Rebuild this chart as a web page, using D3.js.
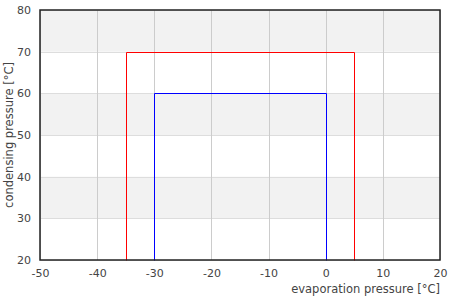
<!DOCTYPE html>
<html>
<head>
<meta charset="utf-8">
<script src="https://cdn.jsdelivr.net/npm/d3@7"></script>
<style>
  body { margin: 0; background: #fff; }
  text { font-family: "DejaVu Sans", sans-serif; }
</style>
</head>
<body>
<div id="chart"></div>
<script>
// envelope corners: evaporation temp, condensing temp
const redEvap = [-35, -35, 5, 5];
const redCond = [20, 70, 70, 20];
const blueEvap = [-30, -30, 0, 0];
const blueCond = [20, 60, 60, 20];
const xTicks = [-50, -40, -30, -20, -10, 0, 10, 20];
const yTicks = [20, 30, 40, 50, 60, 70, 80];
const bandStarts = [30, 50, 70];

const width = 450, height = 300;
const margin = { top: 10, right: 10, bottom: 40, left: 40 };

const svg = d3.select('#chart').append('svg')
    .attr('width', width)
    .attr('height', height);

const x = d3.scaleLinear().domain([-50, 20]).range([margin.left, width - margin.right]);
const y = d3.scaleLinear().domain([20, 80]).range([height - margin.bottom, margin.top]);

// alternating background bands
svg.append('g').selectAll('rect')
    .data(bandStarts)
    .enter().append('rect')
    .attr('x', x(-50))
    .attr('width', x(20) - x(-50))
    .attr('y', d => y(d + 10))
    .attr('height', d => y(d) - y(d + 10))
    .attr('fill', '#f2f2f2');

// grid
svg.append('g').selectAll('line')
    .data(yTicks)
    .enter().append('line')
    .attr('x1', x(-50)).attr('x2', x(20))
    .attr('y1', d => Math.round(y(d)) + 0.5).attr('y2', d => Math.round(y(d)) + 0.5)
    .attr('stroke', '#dddddd');

svg.append('g').selectAll('line')
    .data(xTicks)
    .enter().append('line')
    .attr('y1', y(20)).attr('y2', y(80))
    .attr('x1', d => Math.round(x(d)) + 0.5).attr('x2', d => Math.round(x(d)) + 0.5)
    .attr('stroke', '#cccccc');

// envelopes
const snap = v => Math.round(v) + 0.5;
const line = d3.line().x(d => snap(x(d[0]))).y(d => snap(y(d[1])));
const series = [
    { evap: redEvap, cond: redCond, color: '#ff0000' },
    { evap: blueEvap, cond: blueCond, color: '#0000ff' }
];
svg.append('g').selectAll('path')
    .data(series)
    .enter().append('path')
    .attr('d', s => line(s.evap.map((e, i) => [e, s.cond[i]])))
    .attr('fill', 'none')
    .attr('stroke', s => s.color)
    .attr('stroke-width', 1);

// frame
svg.append('rect')
    .attr('x', x(-50)).attr('y', y(80))
    .attr('width', x(20) - x(-50)).attr('height', y(20) - y(80))
    .attr('fill', 'none')
    .attr('stroke', '#222')
    .attr('stroke-width', 1.5);

// axes (plain hyphen minus like the original)
const fmt = d => String(d);
const xAxis = svg.append('g')
    .attr('transform', `translate(0,${y(20)})`)
    .call(d3.axisBottom(x).tickValues(xTicks).tickFormat(fmt).tickSize(0).tickPadding(9));
const yAxis = svg.append('g')
    .attr('transform', `translate(${x(-50)},0)`)
    .call(d3.axisLeft(y).tickValues(yTicks).tickFormat(fmt).tickSize(0).tickPadding(9));
[xAxis, yAxis].forEach(g => {
    g.select('.domain').remove();
    g.selectAll('text').attr('fill', '#444').style('font-size', '11px');
});

svg.append('text')
    .attr('x', x(20))
    .attr('y', 293)
    .attr('text-anchor', 'end')
    .attr('fill', '#444')
    .style('font-size', '11.5px')
    .text('evaporation pressure [°C]');

svg.append('text')
    .attr('transform', `translate(13,${(y(20) + y(80)) / 2}) rotate(-90)`)
    .attr('text-anchor', 'middle')
    .attr('fill', '#444')
    .style('font-size', '11.5px')
    .text('condensing pressure [°C]');
</script>
</body>
</html>
